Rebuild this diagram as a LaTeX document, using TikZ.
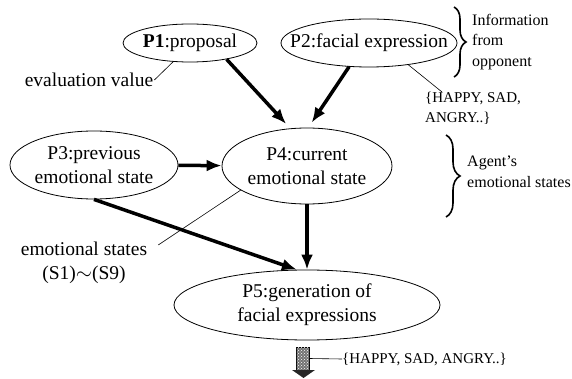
\documentclass[tikz,border=0pt]{standalone}
\usepackage{fontspec}
\setmainfont{Liberation Serif}
\usetikzlibrary{arrows.meta,shapes.geometric,decorations.pathreplacing,patterns}

\newcommand{\bigsz}{\fontsize{19.5}{24}\selectfont}
\newcommand{\notesz}{\fontsize{16}{20.5}\selectfont}
\newcommand{\setsz}{\fontsize{15}{19.5}\selectfont}

\begin{document}
\begin{tikzpicture}[x=1pt, y=-1pt, font=\bigsz,
  proc/.style={draw, ellipse, inner sep=0pt, line width=0.8pt},
  flow/.style={line width=3.5pt, -{Latex[length=15pt,width=12pt]}},
  lead/.style={line width=0.6pt},
  note/.style={font=\notesz, align=left, inner sep=0pt},
  brc/.style={decorate, decoration={brace, amplitude=#1}, line width=1.6pt},
  every label/.style={align=center}]
  \useasboundingbox (0,0) rectangle (572,379);
  % Processes P1 to P5.
  \node[proc, minimum width=134pt, minimum height=38pt, label={center:\textbf{P1}:proposal}] (p1) at (190,43) {};
  \node[proc, minimum width=176pt, minimum height=48pt, label={center:P2:facial expression}] (p2) at (369,43) {};
  \node[proc, minimum width=168pt, minimum height=68pt, label={center:P3:previous\\emotional state}] (p3) at (94,165) {};
  \node[proc, minimum width=170pt, minimum height=76pt, label={center:P4:current\\emotional state}] (p4) at (307,166) {};
  \node[proc, minimum width=266pt, minimum height=70pt, label={center:P5:generation of\\facial expressions}] (p5) at (307,305) {};
  % Main flow.
  \draw[flow, shorten >=6pt] (p1.-24) -- (p4.114);
  \draw[flow, shorten >=6pt] (p2.-130) -- (p4.88);
  \draw[flow] (p3) -- (p4);
  \draw[flow] (p3.south) -- (p5.106);
  \draw[flow] (p4.south) -- (p5.north);
  % Side notes with braces.
  \draw[brc=12pt] (454,7) -- (454,77);
  \node[note, anchor=west] (info) at (472,42) {Information\\from\\opponent};
  \draw[brc=14pt] (446,135) -- (446,217);
  \node[note, anchor=west] (ag) at (467,172) {Agent's\\emotional states};
  % Value labels.
  \node[inner sep=1pt] (ev) at (89,80) {evaluation value};
  \draw[lead] (ev.east) -- (p1.-132);
  \node[note, font=\setsz, anchor=north west] (hp) at (425,92) {\{HAPPY, SAD,\\ANGRY..\}};
  \draw[lead] (p2.-29) -- ([xshift=17pt]hp.north west);
  \node[align=center, inner sep=1pt] (es) at (84,263) {emotional states\\(S1)$\sim$(S9)};
  \draw[lead] ([xshift=10pt,yshift=-4pt]es.north east) -- (p4.-160);
  % Output arrow.
  \node[draw, line width=0.6pt, fill=black!55, postaction={pattern=crosshatch dots, pattern color=white},
    minimum width=13pt, minimum height=23pt, inner sep=0pt] (out) at (302.5,358.5) {};
  \fill[black!85] (292,370) -- (315,370) -- (303.5,378) -- cycle;
  \node[note, font=\setsz, anchor=west] (bt) at (342,359) {\{HAPPY, SAD, ANGRY..\}};
  \draw[lead] (out.east) -- (bt.west);
\end{tikzpicture}
\end{document}
